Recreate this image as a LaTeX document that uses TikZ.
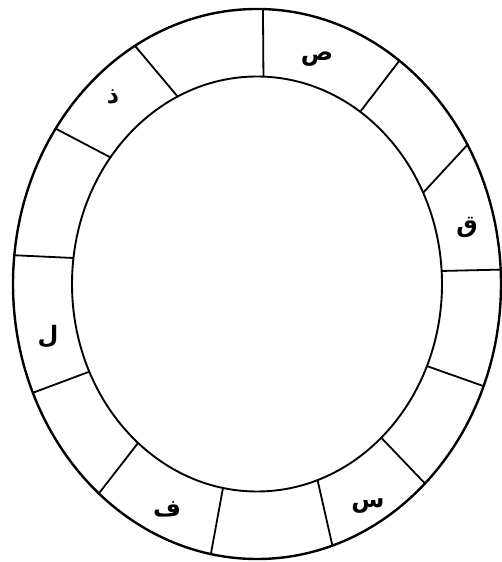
\documentclass[tikz,border=0pt]{standalone}
\usepackage{fontspec}
\newfontfamily\arabicfont[Script=Arabic]{DejaVu Sans}
\TeXXeTstate=1
\tikzset{
  outerring/.style={line width=2.4pt},
  innerring/.style={line width=1.9pt},
  divider/.style={line width=1.8pt},
  letter/.style={font=\arabicfont\fontsize{24}{28}\selectfont\bfseries, inner sep=0pt}
}
\begin{document}
\begin{tikzpicture}[x=1pt,y=1pt]
\useasboundingbox (0,0) rectangle (501,562);
\fill[white] (0,0) rectangle (501,562);
\begin{scope}[shift={(257,278)}]
  \coordinate (c) at (0,0);
  \draw[outerring] (c) ellipse [x radius=244pt, y radius=275pt];
  \draw[innerring] (c) ellipse [x radius=185pt, y radius=207.5pt];
  \foreach \n/\a/\b in {1/88.6/88, 2/54.3/56.1, 3/30.4/26.1, 4/3/3.6, 5/-21.8/-23.3,
      6/-46.5/-47.8, 7/-72/-70.9, 8/-100.9/-100.6, 9/-130.4/-130, 10/-156.7/-155,
      11/174/172.8, 12/145.6/142.4, 13/120/115.4}{
    \coordinate (o\n) at (\a:244pt and 275pt);
    \coordinate (i\n) at (\b:185pt and 207.5pt);
    \draw[divider] (o\n) -- (i\n);
  }
\end{scope}
\node[letter] (sad) at (317,503) {\beginR ص\endR};
\node[letter] (qaf) at (467,335) {\beginR ق\endR};
\node[letter] (seen) at (368,56) {\beginR س\endR};
\node[letter] (fa) at (167,53) {\beginR ف\endR};
\node[letter] (lam) at (48,225) {\beginR ل\endR};
\node[letter] (dhal) at (113,465) {\beginR ذ\endR};
\end{tikzpicture}
\end{document}
